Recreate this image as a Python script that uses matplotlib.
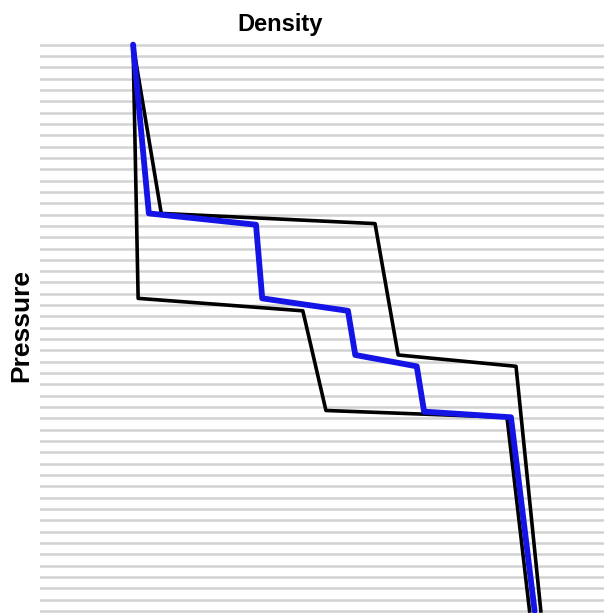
import matplotlib.pyplot as plt
import numpy as np

# density profiles (arbitrary units), pressure levels (grid index, 0 = surface)
upper_density = [16.5, 21.5, 59.4, 63.5, 84.4, 88.8]
upper_pressure = [0, 14.9, 15.8, 27.4, 28.4, 50.0]

lower_density = [16.5, 17.4, 46.6, 50.7, 82.8, 86.8]
lower_pressure = [0, 22.4, 23.5, 32.3, 32.9, 50.0]

mean_density = [16.5, 19.3, 38.3, 39.4, 54.6, 55.9, 66.8, 68.1, 83.5, 87.7]
mean_pressure = [0, 14.9, 15.9, 22.4, 23.5, 27.4, 28.4, 32.4, 32.9, 50.0]

levels = np.arange(0, 51)

fig = plt.figure(figsize=(6.04, 6.13), dpi=100)
ax = fig.add_axes([40/604, 0, 564/604, 573/613])

for p in levels:
	ax.axhline(p, color='#d2d2d2', lw=1.8, zorder=1)

ax.plot(upper_density, upper_pressure, color='black', lw=2.6, zorder=2)
ax.plot(lower_density, lower_pressure, color='black', lw=2.6, zorder=2)
ax.plot(mean_density, mean_pressure, color='#1414e6', lw=4.2, zorder=3,
	solid_capstyle='round')

ax.set_xlim(0, 100)
ax.set_ylim(50.18, -0.41)
ax.axis('off')

fig.text(280/604, 1 - 24/613, 'Density', ha='center', va='center',
	fontsize=17, fontweight='bold', family='Liberation Sans')
fig.text(21/604, 1 - 326/613, 'Pressure', ha='center', va='center',
	rotation=90, fontsize=19, fontweight='bold', family='Liberation Sans')

plt.savefig('out.png', dpi=100)
plt.close('all')
